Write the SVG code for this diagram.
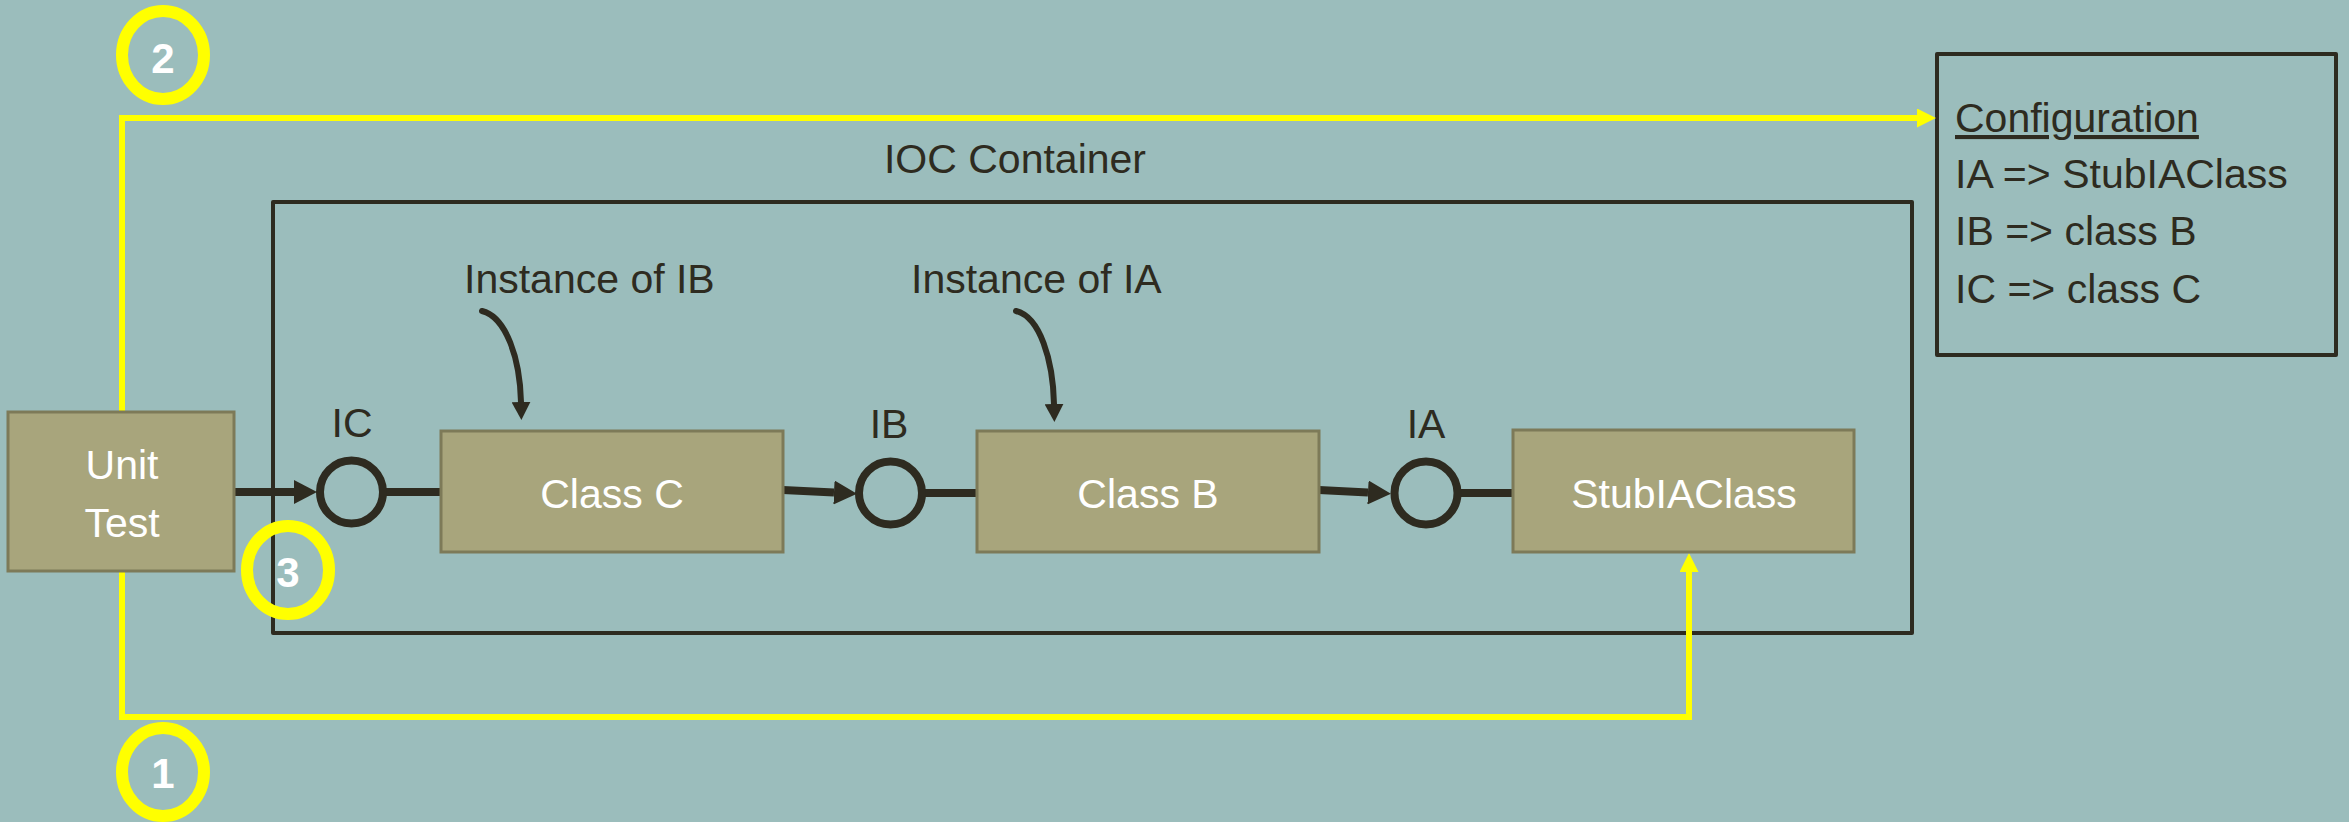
<svg xmlns="http://www.w3.org/2000/svg" width="2349" height="822" viewBox="0 0 2349 822">
  <defs>
    <style>
      .txt { font-family: "Liberation Sans", Arial, sans-serif; font-size: 41px; fill: #2E2B20; }
      .wtxt { font-family: "Liberation Sans", Arial, sans-serif; font-size: 41px; fill: #FFFFFF; text-anchor: middle; }
      .num { font-family: "Liberation Sans", Arial, sans-serif; font-size: 42px; font-weight: bold; fill: #FFFFFF; text-anchor: middle; }
      .box { fill: #A8A57C; stroke: #7D7A58; stroke-width: 3; }
      .frame { fill: none; stroke: #2E2B20; stroke-width: 4; stroke-linejoin: round; }
      .wire { fill: none; stroke: #2E2B20; stroke-width: 8; }
      .thin { fill: none; stroke: #2E2B20; stroke-width: 6; stroke-linecap: round; }
      .sock { fill: none; stroke: #2E2B20; stroke-width: 8; }
      .path { fill: none; stroke: #FFFF00; stroke-width: 6; stroke-linejoin: miter; }
      .ring { fill: none; stroke: #FFFF00; stroke-width: 12; }
    </style>
    <marker id="darrow" markerUnits="userSpaceOnUse" markerWidth="23" markerHeight="24" refX="0" refY="12" orient="auto">
      <path d="M0,0 L23,12 L0,24 z" fill="#2E2B20"/>
    </marker>
    <marker id="sarrow" markerUnits="userSpaceOnUse" markerWidth="18" markerHeight="19" refX="0" refY="9.5" orient="auto">
      <path d="M0,0 L18,9.5 L0,19 z" fill="#2E2B20"/>
    </marker>
    <marker id="yarrow" markerUnits="userSpaceOnUse" markerWidth="19" markerHeight="19" refX="0" refY="9.5" orient="auto">
      <path d="M0,0 L19,9.5 L0,19 z" fill="#FFFF00"/>
    </marker>
  </defs>

  <rect x="0" y="0" width="2349" height="822" fill="#9BBDBC"/>

  <!-- IOC container frame -->
  <g id="container">
    <rect class="frame" x="273" y="202" width="1639" height="431"/>
    <text class="txt" x="1015" y="173" text-anchor="middle">IOC Container</text>
  </g>

  <!-- configuration panel -->
  <g id="configuration">
    <rect class="frame" x="1937" y="54" width="399" height="301"/>
    <text class="txt" x="1955" y="132" font-size="42" text-decoration="underline">Configuration</text>
    <text class="txt" x="1955" y="188" font-size="42">IA =&gt; StubIAClass</text>
    <text class="txt" x="1955" y="245" font-size="42">IB =&gt; class B</text>
    <text class="txt" x="1955" y="303" font-size="42">IC =&gt; class C</text>
  </g>

  <!-- connectors -->
  <g id="connectors">
    <!-- step 2: test configures the container -->
    <path class="path" d="M122,412 L122,118 L1917,118" marker-end="url(#yarrow)"/>
    <!-- step 1: test creates the stub -->
    <path class="path" d="M122,571 L122,717 L1689,717 L1689,572" marker-end="url(#yarrow)"/>
    <!-- dependency chain -->
    <path class="wire" d="M234,492 L294,492" marker-end="url(#darrow)"/>
    <line class="wire" x1="386" y1="492" x2="441" y2="492"/>
    <path class="wire" d="M783,490 L834,492.5" marker-end="url(#darrow)"/>
    <line class="wire" x1="924" y1="493" x2="977" y2="493"/>
    <path class="wire" d="M1319,490 L1368,492.5" marker-end="url(#darrow)"/>
    <line class="wire" x1="1461" y1="493" x2="1513" y2="493"/>
    <!-- instance annotations -->
    <path class="thin" d="M482,311 C506,317 520,358 521,402" marker-end="url(#sarrow)"/>
    <path class="thin" d="M1016,311 C1040,317 1053,360 1054,404" marker-end="url(#sarrow)"/>
  </g>

  <g id="unit-test">
    <rect class="box" x="8" y="412" width="226" height="159"/>
    <text class="wtxt" x="122" y="479">Unit</text>
    <text class="wtxt" x="122" y="537">Test</text>
  </g>

  <g id="ic-socket">
    <circle class="sock" cx="351.5" cy="492" r="31.5"/>
    <text class="txt" x="352" y="437" text-anchor="middle">IC</text>
  </g>

  <g id="class-c">
    <rect class="box" x="441" y="431" width="342" height="121"/>
    <text class="wtxt" x="612" y="508">Class C</text>
  </g>

  <g id="ib-socket">
    <circle class="sock" cx="890.5" cy="493" r="31.5"/>
    <text class="txt" x="889" y="438" text-anchor="middle">IB</text>
  </g>

  <g id="class-b">
    <rect class="box" x="977" y="431" width="342" height="121"/>
    <text class="wtxt" x="1148" y="508">Class B</text>
  </g>

  <g id="ia-socket">
    <circle class="sock" cx="1426" cy="493" r="31.5"/>
    <text class="txt" x="1426" y="438" text-anchor="middle">IA</text>
  </g>

  <g id="stub-ia-class">
    <rect class="box" x="1513" y="430" width="341" height="122"/>
    <text class="wtxt" x="1684" y="508">StubIAClass</text>
  </g>

  <g id="note-ib">
    <text class="txt" x="464" y="293">Instance of IB</text>
  </g>
  <g id="note-ia">
    <text class="txt" x="911" y="293">Instance of IA</text>
  </g>

  <!-- numbered step markers -->
  <g id="step-2">
    <ellipse class="ring" cx="163" cy="55" rx="41" ry="44"/>
    <text class="num" x="163" y="73">2</text>
  </g>
  <g id="step-1">
    <ellipse class="ring" cx="163" cy="772" rx="41" ry="44"/>
    <text class="num" x="163" y="788">1</text>
  </g>
  <g id="step-3">
    <ellipse class="ring" cx="288" cy="570" rx="41" ry="44"/>
    <text class="num" x="288" y="587">3</text>
  </g>
</svg>
